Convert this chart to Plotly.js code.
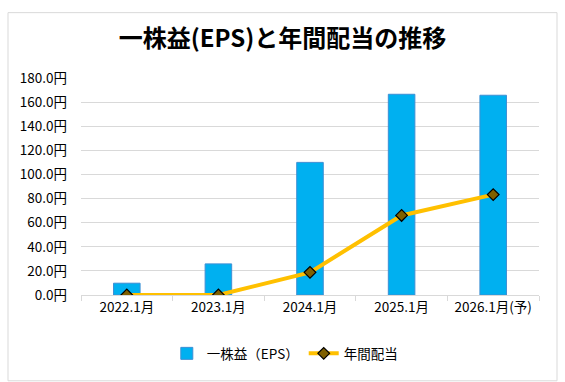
<!DOCTYPE html>
<html>
<head>
<meta charset="utf-8">
<script src="https://cdn.plot.ly/plotly-3.0.1.min.js"></script>
<style>
html,body{margin:0;padding:0;background:#fff;}
#chart{width:565px;height:382px;}
</style>
</head>
<body>
<div id="chart"></div>
<script>
const categories = ["2022.1月", "2023.1月", "2024.1月", "2025.1月", "2026.1月(予)"];
const eps = [9.8, 25.8, 110.0, 166.5, 165.7];
const dividend = [0, 0, 18.8, 66.0, 83.3];
const yTicks = [0, 20, 40, 60, 80, 100, 120, 140, 160, 180];

const font = "'Noto Sans CJK JP', 'Noto Sans', sans-serif";

const traces = [
  {
    type: "bar",
    name: "一株益（EPS）",
    x: categories,
    y: eps,
    width: 0.29,
    marker: { color: "#00B0F0", line: { color: "#3E8FD4", width: 1 } }
  },
  {
    type: "scatter",
    mode: "lines+markers",
    name: "年間配当",
    x: categories,
    y: dividend,
    line: { color: "#FFC000", width: 4 },
    marker: { symbol: "diamond", size: 9, color: "#7F6000", line: { color: "#000", width: 1.2 } }
  }
];

const layout = {
  width: 565,
  height: 382,
  margin: { l: 81, r: 26, t: 77.5, b: 87 },
  paper_bgcolor: "#fff",
  plot_bgcolor: "#fff",
  font: { family: font, size: 13, color: "#000" },
  title: {
    text: "<b>一株益(EPS)と年間配当の推移</b>",
    font: { family: font, size: 24, color: "#000", weight: 900 },
    x: 0.5, xref: "container", xanchor: "center",
    y: 42, yref: "container", yanchor: "middle"
  },
  xaxis: {
    type: "category",
    showline: true, linecolor: "#D9D9D9", linewidth: 1,
    ticks: "outside", tickson: "boundaries", ticklen: 5, tickcolor: "#D9D9D9",
    tickfont: { family: font, size: 13.5, color: "#000" },
    showgrid: false, fixedrange: true
  },
  yaxis: {
    range: [0, 180],
    tickvals: yTicks,
    ticktext: yTicks.map(v => v.toFixed(1) + "円"),
    showgrid: true, gridcolor: "#D9D9D9", gridwidth: 1,
    zeroline: false, showline: false, ticks: "",
    ticklabelstandoff: 13,
    tickfont: { family: font, size: 13.5, color: "#000" },
    fixedrange: true
  },
  showlegend: true,
  legend: {
    orientation: "h",
    x: 0.445, xanchor: "center",
    y: -0.27, yanchor: "middle",
    font: { family: font, size: 13.5, color: "#000" },
    itemwidth: 30
  },
  shapes: [{
    type: "rect", xref: "paper", yref: "paper",
    x0: (8 - 81) / 458, x1: (557 - 81) / 458,
    y0: (295 - 381) / 217.5, y1: (295 - 12) / 217.5,
    line: { color: "#D9D9D9", width: 1 }, fillcolor: "rgba(0,0,0,0)", layer: "below"
  }]
};

Plotly.newPlot("chart", traces, layout, { displayModeBar: false, staticPlot: true });
</script>
</body>
</html>
